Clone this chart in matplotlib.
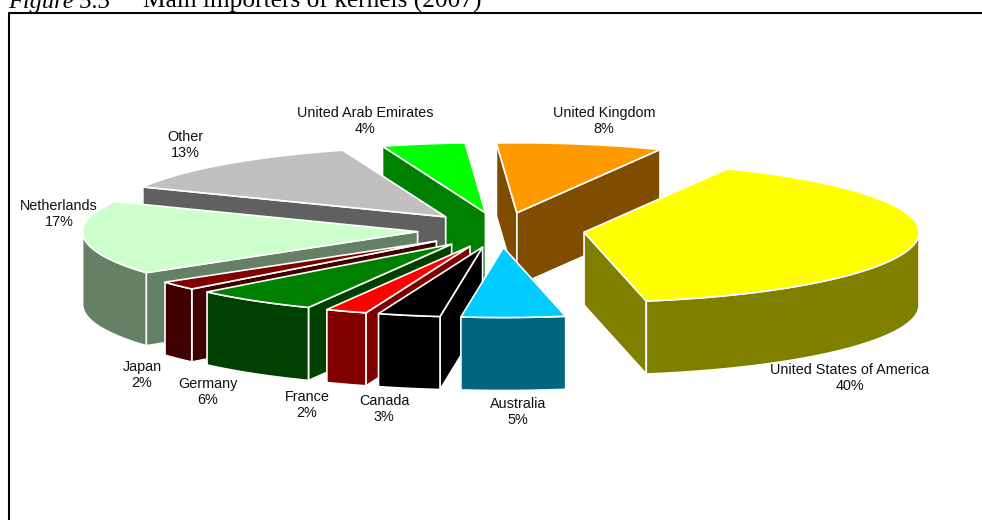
import numpy as np
import matplotlib
matplotlib.use("Agg")
import matplotlib.pyplot as plt
from matplotlib.lines import Line2D
from matplotlib.patches import Polygon

# Market shares, clockwise from the first slice
countries = ["United States of America", "Australia", "Canada", "France", "Germany",
             "Japan", "Netherlands", "Other", "United Arab Emirates", "United Kingdom"]
shares = [40, 5, 3, 2, 6, 2, 17, 13, 4, 8]

top_colours = ["#FFFF00", "#00CCFF", "#000000", "#FF0000", "#008000",
               "#800000", "#CCFFCC", "#C0C0C0", "#00FF00", "#FF9900"]
side_colours = ["#808000", "#006680", "#000000", "#800000", "#004000",
                "#400000", "#668066", "#606060", "#008000", "#804D00"]

# Label centres in pixels (x, y of the whole two-line block)
label_x = [850, 518, 384, 307, 208, 142, 59, 185, 365, 604]
label_y = [378, 412, 409, 405, 392, 375, 214, 145, 121, 121]

W, H = 982, 520
CX, CY = 501.0, 230.0      # pie centre in pixels
RX, RY = 335.0, 70.0       # projected radii in pixels
DEPTH = 73.0 / RY          # extrusion in pie units
EXPLODE = 0.25
START = 64.7               # degrees, slices run clockwise

fig = plt.figure(figsize=(W / 100, H / 100), dpi=100)
ax = fig.add_axes([0, 0, 1, 1])
ax.set_xlim(-CX / RX, (W - CX) / RX)
ax.set_ylim((CY - H) / RY, CY / RY)
ax.axis("off")


def arc(a0, a1):
    t = np.radians(np.linspace(a0, a1, max(2, int(abs(a1 - a0)) + 2)))
    return np.column_stack([np.cos(t), np.sin(t)])


def shape(points, colour):
    ax.add_patch(Polygon(points, closed=True, facecolor=colour, edgecolor="white",
                         linewidth=1.2, joinstyle="round"))


spans = np.array(shares) * 3.6
ends = START - np.cumsum(spans)
starts = ends + spans
mids = (starts + ends) / 2

# Back slices first so nearer ones paint over them
for i in np.argsort(-np.sin(np.radians(mids))):
    a0, a1, m = starts[i], ends[i], np.radians(mids[i])
    apex = EXPLODE * np.array([np.cos(m), np.sin(m)])
    drop = np.array([0, DEPTH])
    rim = apex + arc(a0, a1)

    # Radial cut faces that turn towards the viewer
    if np.cos(np.radians(a0)) < 0:
        shape([apex, rim[0], rim[0] - drop, apex - drop], side_colours[i])
    if np.cos(np.radians(a1)) > 0:
        shape([apex, rim[-1], rim[-1] - drop, apex - drop], side_colours[i])

    # Outer wall: only the part of the rim on the near side of the pie
    for base in np.arange(np.floor(a1 / 360) * 360, a0 + 180, 360.0):
        lo, hi = max(a1, base - 180), min(a0, base)
        if hi > lo:
            seg = apex + arc(hi, lo)
            shape(np.vstack([seg, (seg - drop)[::-1]]), side_colours[i])

    shape(np.vstack([apex[None, :], rim]), top_colours[i])

for name, share, x, y in zip(countries, shares, label_x, label_y):
    tx, ty = (x - CX) / RX, (CY - y) / RY
    ax.text(tx, ty, f"{name}\n{share}%", ha="center", va="center", ma="center",
            family="Liberation Sans", fontsize=10.4, color="#111111", linespacing=1.15)

# Caption, cut off by the top of the page
fig.text(8 / W, 1 - 8 / H, "Figure 5.5", family="Liberation Serif", style="italic",
         fontsize=17.6, va="baseline", ha="left")
fig.text(143 / W, 1 - 8 / H, "Main importers of kernels (2007)", family="Liberation Serif",
         fontsize=18.3, va="baseline", ha="left")

# Page frame: only the top and left rules fall on the page
fig.add_artist(Line2D([8.5 / W, 8.5 / W, 1], [0, 1 - 13 / H, 1 - 13 / H],
                      color="black", linewidth=1.5))

fig.savefig("out.png", dpi=100)
